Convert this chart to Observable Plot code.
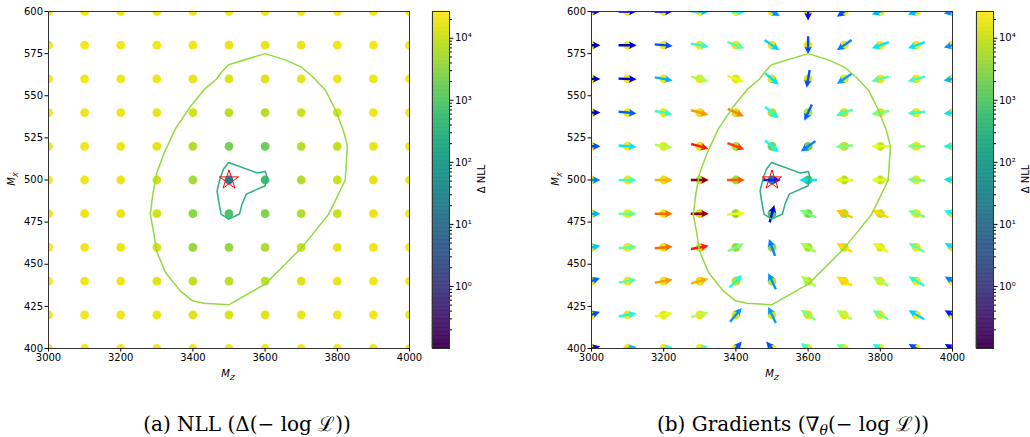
<!DOCTYPE html>
<html><head><meta charset="utf-8">
<script src="https://cdn.jsdelivr.net/npm/d3@7"></script>
<script src="https://cdn.jsdelivr.net/npm/@observablehq/plot@0.6"></script>
<style>
body{margin:0;background:#fff;}
#fig{position:relative;width:1030px;height:437px;overflow:hidden;font-family:"DejaVu Sans";}
#fig > *{position:absolute;}
</style></head><body><div id="fig"></div>
<script>
// ---------------- data ----------------
const mzValues = [3000,3100,3200,3300,3400,3500,3600,3700,3800,3900,4000];
const mxValues = [600,580,560,540,520,500,480,460,440,420,400];
const xTicks = [3000,3200,3400,3600,3800,4000];
const yTicks = [400,425,450,475,500,525,550,575,600];
const cbMajorTicks = [1,10,100,1000,10000];
const cbDomain = [0.1, 27000];

// Delta NLL per grid point (rows top->bottom = mx 600..400, columns mz 3000..4000)
const nllRows = [
  [2.2e4,2.2e4,2.2e4,2.2e4,2.2e4,2.1e4,2.1e4,2.2e4,2.2e4,2.2e4,2.2e4],
  [2.2e4,2.2e4,2.2e4,2.1e4,2.0e4,1.9e4,1.9e4,2.0e4,2.1e4,2.2e4,2.2e4],
  [2.2e4,2.2e4,2.1e4,2.0e4,1.8e4,1.5e4,1.5e4,1.7e4,2.0e4,2.1e4,2.2e4],
  [2.2e4,2.1e4,2.0e4,1.7e4,1.2e4,7e3,7e3,1.1e4,1.3e4,2.0e4,2.2e4],
  [2.2e4,2.1e4,1.9e4,1.6e4,6e3,2e3,1.6e3,7e3,9e3,1.8e4,2.1e4],
  [2.1e4,2.0e4,1.8e4,1.1e4,5e3,15,600,6e3,1e4,1.7e4,2.1e4],
  [2.1e4,2.0e4,1.8e4,1.1e4,3e3,800,2.5e3,6e3,1e4,1.8e4,2.1e4],
  [2.2e4,2.1e4,1.9e4,1.2e4,4e3,4e3,6e3,1e4,1.6e4,2.0e4,2.2e4],
  [2.2e4,2.1e4,2.0e4,1.5e4,8e3,7e3,8e3,1.5e4,1.9e4,2.1e4,2.2e4],
  [2.2e4,2.2e4,2.1e4,1.9e4,1.5e4,1.4e4,1.5e4,1.9e4,2.1e4,2.2e4,2.2e4],
  [2.2e4,2.2e4,2.2e4,2.2e4,2.2e4,2.2e4,2.2e4,2.2e4,2.2e4,2.2e4,2.2e4]
];
// gradient arrow direction (degrees clockwise from up, on screen)
const angleRows = [
  [90,90,90,92,95,120,180,235,250,250,255],
  [90,90,95,100,110,125,180,235,250,250,255],
  [90,92,100,105,110,130,190,235,255,255,260],
  [90,95,100,105,115,130,205,250,260,265,262],
  [90,95,100,105,110,130,235,265,270,270,270],
  [90,90,90,90,90,90,270,270,270,275,275],
  [90,90,90,90,85,15,295,295,295,290,290],
  [80,85,85,80,65,340,300,300,300,300,300],
  [70,80,80,75,45,335,305,300,300,300,300],
  [70,80,80,75,40,335,305,300,300,300,300],
  [75,80,80,75,40,320,305,300,300,300,300]
];
// arrow colour value on jet colormap (0..1)
const magRows = [
  [0.1,0.12,0.12,0.3,0.37,0.27,0.12,0.2,0.3,0.3,0.25],
  [0.06,0.08,0.2,0.4,0.45,0.33,0.2,0.25,0.35,0.35,0.27],
  [0.06,0.08,0.3,0.55,0.62,0.35,0.2,0.28,0.45,0.42,0.3],
  [0.08,0.22,0.42,0.75,0.77,0.38,0.22,0.43,0.5,0.42,0.35],
  [0.2,0.35,0.57,0.88,0.85,0.37,0.25,0.5,0.62,0.5,0.37],
  [0.25,0.42,0.72,0.99,0.82,0.15,0.35,0.63,0.62,0.5,0.35],
  [0.3,0.48,0.8,0.97,0.64,0.08,0.5,0.7,0.68,0.5,0.37],
  [0.32,0.47,0.8,0.88,0.5,0.25,0.55,0.68,0.62,0.47,0.35],
  [0.22,0.45,0.75,0.73,0.38,0.27,0.55,0.68,0.55,0.4,0.25],
  [0.2,0.37,0.62,0.57,0.27,0.28,0.5,0.57,0.48,0.33,0.15],
  [0.1,0.3,0.4,0.45,0.2,0.2,0.43,0.47,0.38,0.2,0.1]
];
// contour polylines
const outerMz = [3600,3656,3702,3734,3767,3794,3817,3828,3822,3790,3776,3739,3702,3651,3600,3499,3430,3399,3365,3324,3299,3292,3282,3289,3299,3319,3351,3391,3432,3465,3481,3499,3600];
const outerMx = [575,571.3,566.8,560.8,553.3,542,529.2,520.1,500,485.7,479.7,469.8,460,449,438.2,425.9,426.9,428.3,434.2,445.1,458,467.9,479.7,491.6,503.5,515.3,530.2,543,553.9,559.8,564.4,568.4,575];
const innerMz = [3499,3579,3601,3605,3600,3548,3536,3529,3499,3478,3471,3467,3476,3485,3499];
const innerMx = [510.4,504.1,505,501.9,496.6,491.6,485.7,479.8,476.8,479.8,487.6,493.6,501.5,506.5,510.4];
const starPoint = [{mz:3500, mx:500}];

// ---------------- colour maps ----------------
const viridisLog = d3.scaleSequentialLog(d3.interpolateViridis).domain(cbDomain);
function seg(pts, t){
  for (let i=1;i<pts.length;i++){ if (t<=pts[i][0]){ const [x0,y0]=pts[i-1],[x1,y1]=pts[i]; return y0+(y1-y0)*(t-x0)/(x1-x0);} }
  return pts[pts.length-1][1];
}
function jet(t){
  const r = seg([[0,0],[0.35,0],[0.66,1],[0.89,1],[1,0.5]],t);
  const g = seg([[0,0],[0.125,0],[0.375,1],[0.64,1],[0.91,0],[1,0]],t);
  const b = seg([[0,0.5],[0.11,1],[0.34,1],[0.65,0],[1,0]],t);
  return d3.rgb(r*255,g*255,b*255).formatHex();
}

const points = [];
mxValues.forEach((mx,i)=>mzValues.forEach((mz,j)=>points.push({mz,mx,nll:nllRows[i][j],angle:angleRows[i][j],mag:magRows[i][j]})));
const outer = outerMz.map((v,i)=>({mz:v,mx:outerMx[i]}));
const inner = innerMz.map((v,i)=>({mz:v,mx:innerMx[i]}));
const outerColor = d3.interpolateViridis(0.84);
const innerColor = d3.interpolateViridis(0.64);

const quiverShape = {
  draw(c, l) {
    const w=1.2, hw=3.7, hl=7.5, hal=6.5;
    c.moveTo(-w,0); c.lineTo(-w,-(l-hal)); c.lineTo(-hw,-(l-hl)); c.lineTo(0,-l);
    c.lineTo(hw,-(l-hl)); c.lineTo(w,-(l-hal)); c.lineTo(w,0); c.closePath();
  }
};

const fig = document.getElementById("fig");
const style = {fontSize:"10px", fontFamily:"DejaVu Sans", color:"#000", background:"transparent", overflow:"visible"};
const plain = d => String(d);

function panel(arrows, useCustom){
  const marks = [
    Plot.dot(points,{x:"mz",y:"mx",r:4.4,fill:d=>viridisLog(d.nll),clip:true})
  ];
  if (arrows) marks.push(Plot.vector(points,{x:"mz",y:"mx",rotate:"angle",length:18,anchor:"middle",
      shape: useCustom ? quiverShape : "arrow",
      fill: useCustom ? (d=>jet(d.mag)) : "none",
      stroke: useCustom ? "none" : (d=>jet(d.mag)), strokeWidth: useCustom ? 0 : 2.2, clip:true}));
  marks.push(
    Plot.line(outer,{x:"mz",y:"mx",stroke:outerColor,strokeWidth:1.5,clip:true}),
    Plot.line(inner,{x:"mz",y:"mx",stroke:innerColor,strokeWidth:1.5,clip:true}),
    Plot.dot(starPoint,{x:"mz",y:"mx",symbol:"star",r:6,stroke:"red",fill:"none",strokeWidth:1}),
    Plot.frame({stroke:"#333"}),
    Plot.axisX({ticks:xTicks,tickSize:3.5,tickPadding:2,label:null,tickFormat:plain}),
    Plot.axisY({ticks:yTicks,tickSize:3.5,tickPadding:2,label:null,tickFormat:plain})
  );
  return Plot.plot({width:420,height:390,marginLeft:48,marginRight:11,marginTop:11,marginBottom:42,
    x:{domain:[3000,4000]}, y:{domain:[400,600]}, color:{type:"identity"}, style, marks});
}
function makePanel(arrows){
  if (!arrows) return panel(false,false);
  try { return panel(true,true); } catch(e) { return panel(true,false); }
}

const supers = {"-":"⁻","0":"⁰","1":"¹","2":"²","3":"³","4":"⁴","5":"⁵","6":"⁶","7":"⁷","8":"⁸","9":"⁹"};
const cbMinor = [];
[0.1,1,10,100,1000,10000].forEach(p=>[2,3,4,5,6,7,8,9].forEach(k=>{const v=p*k; if (v<cbDomain[1]) cbMinor.push(v);}));
function colorbar(){
  const lo=Math.log10(cbDomain[0]), hi=Math.log10(cbDomain[1]), n=256;
  const stops = d3.range(n+1).map(i=>10**(lo+(hi-lo)*i/n));
  const idx = d3.range(n);
  return Plot.plot({width:60,height:390,marginLeft:0,marginRight:43,marginTop:11,marginBottom:42,
    x:{domain:[0,1],axis:null}, y:{type:"log",domain:cbDomain}, color:{type:"identity"}, style,
    marks:[
      Plot.rect(idx,{x1:0,x2:1,y1:i=>stops[i],y2:i=>stops[i+1],fill:i=>d3.interpolateViridis((i+0.5)/n),stroke:i=>d3.interpolateViridis((i+0.5)/n),strokeWidth:0.6}),
      Plot.frame({stroke:"#333"}),
      Plot.axisY({anchor:"right",ticks:cbMajorTicks,tickSize:3.5,tickPadding:2,label:null,
        tickFormat:v=>"10"+String(Math.round(Math.log10(v))).split("").map(c=>supers[c]).join("")}),
      Plot.axisY({anchor:"right",ticks:cbMinor,tickSize:2,tickFormat:()=>"",label:null})
    ]});
}

const p1 = makePanel(false); p1.style.left="0px"; p1.style.top="0px"; fig.appendChild(p1);
const p2 = makePanel(true); p2.style.left="543px"; p2.style.top="0px"; fig.appendChild(p2);
const c1 = colorbar(); c1.style.left="432px"; c1.style.top="0px"; fig.appendChild(c1);
const c2 = colorbar(); c2.style.left="976px"; c2.style.top="0px"; fig.appendChild(c2);

// ---------------- text overlay ----------------
const ov = d3.select(fig).append("svg").attr("width",1030).attr("height",437)
  .style("left","0px").style("top","0px").style("pointer-events","none");
function mathLabel(x,y,sub,rot){
  const t = ov.append("text").attr("font-family","DejaVu Sans").attr("font-size",10).attr("text-anchor","middle")
    .attr("transform",`translate(${x},${y})${rot?" rotate(-90)":""}`);
  t.append("tspan").attr("font-style","italic").text("M");
  t.append("tspan").attr("font-style","italic").attr("font-size",7).attr("dy",2.5).text(sub);
}
mathLabel(228,377,"Z",false); mathLabel(772,377,"Z",false);
mathLabel(15,179,"X",true); mathLabel(559,179,"X",true);
[485,1029].forEach(x=>ov.append("text").attr("font-family","DejaVu Sans").attr("font-size",10)
  .attr("text-anchor","middle").attr("transform",`translate(${x},179) rotate(-90)`).text("Δ NLL"));
const capFont = "DejaVu Serif";
ov.append("text").attr("font-family",capFont).attr("font-size",20).attr("font-weight",300).attr("text-anchor","middle")
  .attr("x",247).attr("y",431).text("(a)  NLL (Δ(− log ℒ))");
const capB = ov.append("text").attr("font-family",capFont).attr("font-size",20).attr("font-weight",300).attr("text-anchor","middle")
  .attr("x",793).attr("y",431);
capB.append("tspan").text("(b)  Gradients (∇");
capB.append("tspan").attr("font-size",14).attr("font-style","italic").attr("dy",4).text("θ");
capB.append("tspan").attr("dy",-4).text("(− log ℒ))");
</script></body></html>
